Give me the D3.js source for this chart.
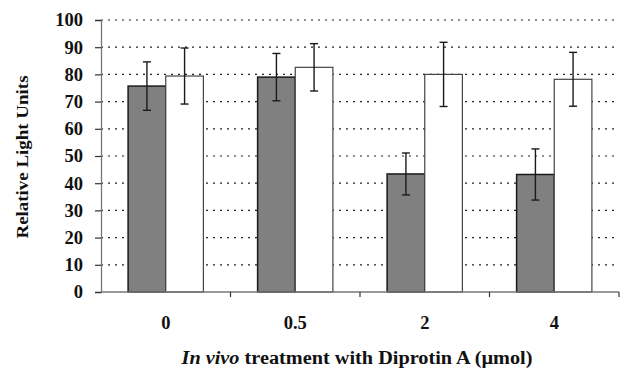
<!DOCTYPE html>
<html>
<head>
<meta charset="utf-8">
<script src="https://cdn.jsdelivr.net/npm/d3@7"></script>
<style>
  body { margin: 0; background: #fff; }
  text { font-family: "Liberation Serif", "Times New Roman", serif; font-weight: bold; }
</style>
</head>
<body>
<svg id="chart" width="620" height="369"></svg>
<script>
// data
const doses = ["0", "0.5", "2", "4"];
const series = ["dark", "white"];
const darkValues = [75.7, 79.0, 43.4, 43.2];
const darkErrors = [8.9, 8.7, 7.7, 9.4];
const whiteValues = [79.4, 82.6, 80.0, 78.2];
const whiteErrors = [10.3, 8.7, 11.8, 9.9];
const yTicks = [0, 10, 20, 30, 40, 50, 60, 70, 80, 90, 100];

const svg = d3.select("#chart");
const plotLeft = 101, plotRight = 619, plotTop = 20, plotBottom = 292;

const x = d3.scaleBand().domain(doses).range([plotLeft, plotRight]).padding(0);
const xSub = d3.scaleBand().domain(series).range([0, x.bandwidth()]).paddingInner(0).paddingOuter(0.72);
const y = d3.scaleLinear().domain([0, 100]).range([plotBottom, plotTop]);

// dotted gridlines
svg.append("g")
  .selectAll("line")
  .data(yTicks.filter(d => d > 0))
  .enter()
  .append("line")
  .attr("x1", plotLeft)
  .attr("x2", plotRight)
  .attr("y1", d => y(d))
  .attr("y2", d => y(d))
  .attr("stroke", "#222")
  .attr("stroke-width", 1.2)
  .attr("stroke-dasharray", "2,5");

// y axis
const yAxis = svg.append("g")
  .attr("transform", "translate(" + plotLeft + ",0)")
  .call(d3.axisLeft(y).tickValues(yTicks).tickSize(6).tickPadding(12));
yAxis.select(".domain").attr("stroke", "#777").attr("stroke-width", 1.3);
yAxis.selectAll(".tick line").attr("stroke", "#333").attr("stroke-width", 1.2);
yAxis.selectAll(".tick text")
  .attr("font-size", 18.5)
  .attr("fill", "#111")
  .style("font-family", "Liberation Serif, serif")
  .style("font-weight", "bold");

// bars
const rows = doses.map((d, i) => [
  { dose: d, s: "dark", v: darkValues[i], e: darkErrors[i] },
  { dose: d, s: "white", v: whiteValues[i], e: whiteErrors[i] }
]).flat();

const bars = svg.append("g");
bars.selectAll("rect")
  .data(rows)
  .enter()
  .append("rect")
  .attr("x", d => x(d.dose) + xSub(d.s))
  .attr("y", d => y(d.v))
  .attr("width", xSub.bandwidth())
  .attr("height", d => y(0) - y(d.v))
  .attr("fill", d => d.s === "dark" ? "#808080" : "#fff")
  .attr("stroke", d => d.s === "dark" ? "#1a1a1a" : "#444")
  .attr("stroke-width", d => d.s === "dark" ? 1.5 : 1.2);

// error bars
const err = svg.append("g").attr("stroke", "#1a1a1a").attr("stroke-width", 1.4);
rows.forEach(d => {
  const cx = x(d.dose) + xSub(d.s) + xSub.bandwidth() / 2;
  err.append("line").attr("x1", cx).attr("x2", cx).attr("y1", y(d.v + d.e)).attr("y2", y(d.v - d.e));
  err.append("line").attr("x1", cx - 4).attr("x2", cx + 4).attr("y1", y(d.v + d.e)).attr("y2", y(d.v + d.e));
  err.append("line").attr("x1", cx - 4).attr("x2", cx + 4).attr("y1", y(d.v - d.e)).attr("y2", y(d.v - d.e));
});

// x axis: ticks on band boundaries
const xg = svg.append("g");
xg.append("line").attr("x1", plotLeft).attr("x2", plotRight).attr("y1", plotBottom).attr("y2", plotBottom)
  .attr("stroke", "#777").attr("stroke-width", 1.3);
xg.selectAll("line.tk")
  .data(doses.slice(1).concat(["end"]))
  .enter()
  .append("line")
  .attr("class", "tk")
  .attr("x1", d => d === "end" ? plotRight : x(d))
  .attr("x2", d => d === "end" ? plotRight : x(d))
  .attr("y1", plotBottom)
  .attr("y2", plotBottom + 5)
  .attr("stroke", "#333")
  .attr("stroke-width", 1.2);
xg.selectAll("text")
  .data(doses)
  .enter()
  .append("text")
  .attr("x", d => x(d) + x.bandwidth() / 2)
  .attr("y", 329)
  .attr("text-anchor", "middle")
  .attr("font-size", 18.5)
  .attr("fill", "#111")
  .text(d => d);

// axis titles
svg.append("text")
  .attr("transform", "translate(28,157) rotate(-90)")
  .attr("text-anchor", "middle")
  .attr("font-size", 17)
  .attr("textLength", 163)
  .attr("lengthAdjust", "spacingAndGlyphs")
  .attr("fill", "#111")
  .text("Relative Light Units");

const xt = svg.append("text")
  .attr("x", 357)
  .attr("y", 364)
  .attr("text-anchor", "middle")
  .attr("font-size", 18)
  .attr("textLength", 351)
  .attr("lengthAdjust", "spacingAndGlyphs")
  .attr("fill", "#111");
xt.append("tspan").attr("font-style", "italic").text("In vivo");
xt.append("tspan").text(" treatment with Diprotin A (\u00b5mol)");
</script>
</body>
</html>
